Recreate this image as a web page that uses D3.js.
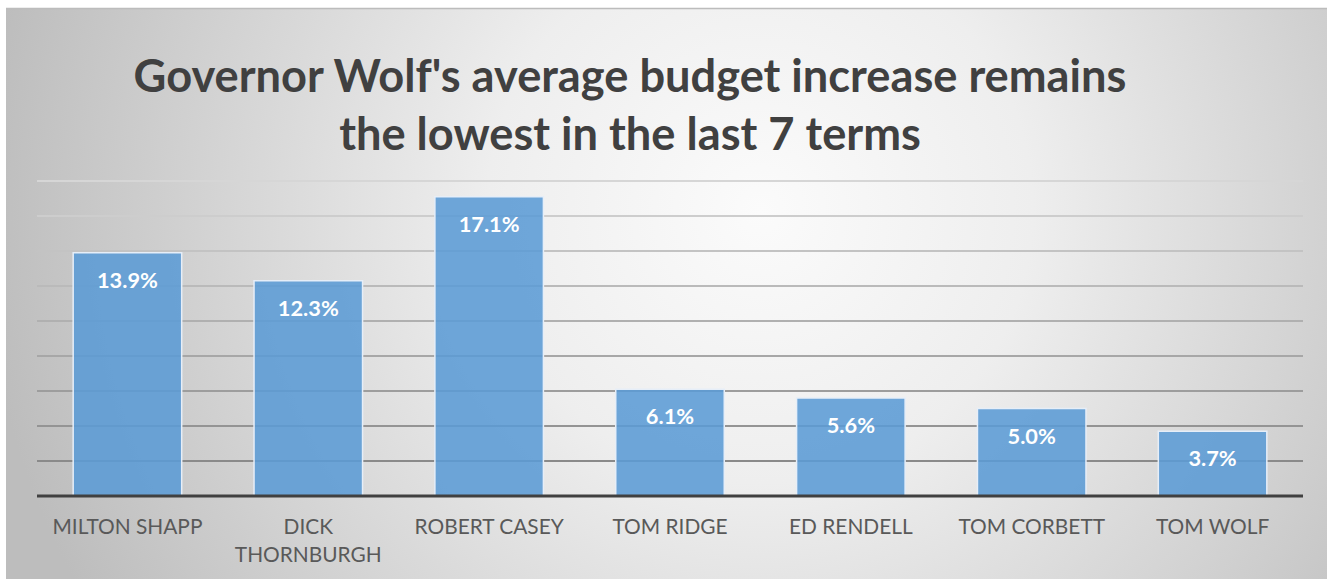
<!DOCTYPE html>
<html>
<head>
<meta charset="utf-8">
<script src="https://cdn.jsdelivr.net/npm/d3@7"></script>
<style>
html,body{margin:0;padding:0;background:#fff;}
svg{display:block;}
</style>
</head>
<body>
<svg id="chart" width="1335" height="579"></svg>
<script>
const categories = ["MILTON SHAPP","DICK THORNBURGH","ROBERT CASEY","TOM RIDGE","ED RENDELL","TOM CORBETT","TOM WOLF"];
const values = [13.9, 12.3, 17.1, 6.1, 5.6, 5.0, 3.7];
const titleLines = ["Governor Wolf's average budget increase remains","the lowest in the last 7 terms"];
const gridTicks = [2,4,6,8,10,12,14,16,18];

const FONT = "Lato, 'Open Sans', 'DejaVu Sans', sans-serif";
const svg = d3.select("#chart");
const W = 1335, H = 579;

// background
const defs = svg.append("defs");
const rg = defs.append("radialGradient").attr("id","bg")
  .attr("gradientUnits","userSpaceOnUse")
  .attr("cx",760).attr("cy",210).attr("r",780);
rg.append("stop").attr("offset",0).attr("stop-color","#fbfbfb");
rg.append("stop").attr("offset",0.35).attr("stop-color","#eeeeee");
rg.append("stop").attr("offset",1).attr("stop-color","#bdbdbd");

svg.append("rect").attr("x",6).attr("y",8).attr("width",1321).attr("height",H-8)
  .attr("fill","url(#bg)");
svg.append("line").attr("x1",6).attr("x2",1327).attr("y1",8.5).attr("y2",8.5)
  .attr("stroke","#bcbcbc").attr("stroke-width",1.5);

const x = d3.scaleBand().domain(categories).range([37,1303]).paddingInner(0.4).paddingOuter(0.2);
const y = d3.scaleLinear().domain([0,18]).range([496,181]);

// helper to fit font size to a target width
function fitSize(text, weight, targetW){
  const t = svg.append("text").attr("font-family",FONT).attr("font-weight",weight)
    .attr("font-size",100).text(text);
  const w = t.node().getComputedTextLength();
  t.remove();
  return 100*targetW/w;
}

// gridlines
const gcol = d3.scaleLinear().domain([2,18]).range(["#8a8a8a","#d6d6d6"]);
svg.append("g").selectAll("line").data(gridTicks).join("line")
  .attr("x1",37).attr("x2",1303)
  .attr("y1",d=>y(d)).attr("y2",d=>y(d))
  .attr("stroke",d=>gcol(d)).attr("stroke-width",2);

// bars
svg.append("g").selectAll("rect").data(values).join("rect")
  .attr("x",(d,i)=>x(categories[i]))
  .attr("width",x.bandwidth())
  .attr("y",d=>y(d))
  .attr("height",d=>y(0)-y(d))
  .attr("fill","#5B9BD5").attr("fill-opacity",0.88)
  .attr("stroke","#e6eef8").attr("stroke-width",1.5);

// axis line
svg.append("line").attr("x1",37).attr("x2",1303).attr("y1",y(0)).attr("y2",y(0))
  .attr("stroke","#404040").attr("stroke-width",3);

// value labels
const vSize = fitSize("13.9%","bold",61);
svg.append("g").selectAll("text").data(values).join("text")
  .attr("x",(d,i)=>x(categories[i])+x.bandwidth()/2)
  .attr("y",d=>y(d)+35)
  .attr("text-anchor","middle")
  .attr("font-family",FONT).attr("font-weight","bold").attr("font-size",vSize)
  .attr("fill","#ffffff")
  .text(d=>d.toFixed(1)+"%");

// category labels
const cSize = fitSize("MILTON SHAPP","normal",150);
const cg = svg.append("g");
categories.forEach(c=>{
  const t = cg.append("text").attr("x",x(c)+x.bandwidth()/2).attr("y",534)
    .attr("text-anchor","middle").attr("font-family",FONT).attr("font-size",cSize)
    .attr("fill","#595959").text(c);
  if (t.node().getComputedTextLength() > 165){
    const words = c.split(" ");
    t.text(null);
    words.forEach((w,i)=>{
      t.append("tspan").attr("x",x(c)+x.bandwidth()/2).attr("dy",i===0?0:28).text(w);
    });
  }
});

// title
const tSize = fitSize(titleLines[0],"bold",993);
svg.append("g").selectAll("text").data(titleLines).join("text")
  .attr("x",630).attr("y",(d,i)=>92+i*58)
  .attr("text-anchor","middle")
  .attr("font-family",FONT).attr("font-weight","bold").attr("font-size",tSize)
  .attr("fill","#404040")
  .text(d=>d);
</script>
</body>
</html>
